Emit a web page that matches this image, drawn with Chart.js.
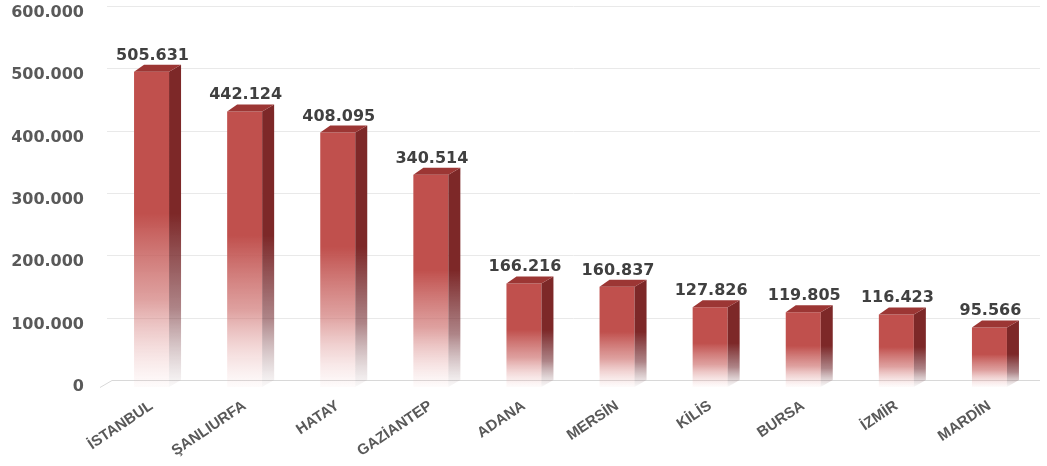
<!DOCTYPE html>
<html>
<head>
<meta charset="utf-8">
<script src="https://cdn.jsdelivr.net/npm/chart.js@4.4.1/dist/chart.umd.min.js"></script>
<style>
  html, body { margin: 0; padding: 0; background: #ffffff; }
  #wrap { width: 1047px; height: 466px; }
</style>
</head>
<body>
<div id="wrap"><canvas id="c" width="1047" height="466"></canvas></div>
<script>
const categories = ["İSTANBUL", "ŞANLIURFA", "HATAY", "GAZİANTEP", "ADANA", "MERSİN", "KİLİS", "BURSA", "İZMİR", "MARDİN"];
const values = [505631, 442124, 408095, 340514, 166216, 160837, 127826, 119805, 116423, 95566];
const yTicks = [0, 100000, 200000, 300000, 400000, 500000, 600000];

const DX = 12, DY = 7;

function fmt(v) {
  return String(v).replace(/\B(?=(\d{3})+(?!\d))/g, ".");
}

function frontGradient(ctx, top, base) {
  const g = ctx.createLinearGradient(0, top, 0, base);
  g.addColorStop(0, "rgba(192,80,77,1)");
  g.addColorStop(0.45, "rgba(192,80,77,1)");
  g.addColorStop(0.72, "rgba(205,110,108,0.65)");
  g.addColorStop(1, "rgba(235,180,180,0.05)");
  return g;
}

const backWall = {
  id: "backWall",
  beforeDatasetsDraw(chart) {
    const { ctx, chartArea, scales } = chart;
    ctx.save();
    ctx.lineWidth = 1;
    yTicks.forEach(v => {
      const y = Math.round(scales.y.getPixelForValue(v) - DY) + 0.5;
      ctx.strokeStyle = v === 0 ? "#d8d8d8" : "#e9e9e9";
      ctx.beginPath();
      if (v === 0) {
        ctx.moveTo(chartArea.left - 5, y + DY);
        ctx.lineTo(chartArea.left - 5 + DX, y);
      } else {
        ctx.moveTo(chartArea.left + 2, y);
      }
      ctx.lineTo(chartArea.right + 4, y);
      ctx.stroke();
    });
    ctx.restore();
  }
};

const bar3d = {
  id: "bar3d",
  afterDatasetsDraw(chart) {
    const { ctx } = chart;
    const meta = chart.getDatasetMeta(0);
    ctx.save();
    meta.data.forEach((bar, i) => {
      const half = bar.width / 2;
      const l = bar.x - half, r = bar.x + half, t = bar.y, b = bar.base;
      const sg = ctx.createLinearGradient(0, t, 0, b);
      sg.addColorStop(0, "rgba(125,40,40,1)");
      sg.addColorStop(0.45, "rgba(125,40,40,1)");
      sg.addColorStop(0.75, "rgba(120,50,55,0.6)");
      sg.addColorStop(1, "rgba(150,120,125,0.05)");
      ctx.fillStyle = sg;
      ctx.beginPath();
      ctx.moveTo(r, t);
      ctx.lineTo(r + DX, t - DY);
      ctx.lineTo(r + DX, b - DY);
      ctx.lineTo(r, b);
      ctx.closePath();
      ctx.fill();
      ctx.fillStyle = "#9c3634";
      ctx.beginPath();
      ctx.moveTo(l, t);
      ctx.lineTo(r, t);
      ctx.lineTo(r + DX, t - DY);
      ctx.lineTo(l + DX - 2, t - DY);
      ctx.closePath();
      ctx.fill();
      ctx.fillStyle = "#404040";
      ctx.font = "bold 16px 'DejaVu Sans'";
      ctx.textAlign = "center";
      ctx.textBaseline = "alphabetic";
      ctx.fillText(fmt(values[i]), bar.x + 1, t - 12);
    });
    ctx.restore();
  }
};

new Chart(document.getElementById("c"), {
  type: "bar",
  data: {
    labels: categories,
    datasets: [{
      data: values,
      backgroundColor: (c) => {
        const chart = c.chart;
        if (!chart.chartArea || c.dataIndex === undefined) return "rgba(192,80,77,1)";
        const top = chart.scales.y.getPixelForValue(values[c.dataIndex]);
        const base = chart.scales.y.getPixelForValue(0);
        return frontGradient(chart.ctx, top, base);
      },
      borderWidth: 0,
      barPercentage: 0.376,
      categoryPercentage: 1.0
    }]
  },
  options: {
    responsive: false,
    animation: false,
    devicePixelRatio: 1,
    layout: { padding: { top: 13, right: 11, left: 0, bottom: 0 } },
    plugins: {
      legend: { display: false },
      tooltip: { enabled: false }
    },
    scales: {
      x: {
        grid: { display: false, drawTicks: false },
        border: { display: false },
        ticks: {
          color: "#595959",
          font: { family: "'Liberation Sans'", weight: "bold", size: 15 },
          minRotation: 34,
          maxRotation: 34,
          autoSkip: false,
          padding: 10
        },
        afterFit(axis) { axis.height = 79; axis.paddingLeft = 0; axis.paddingRight = 0; }
      },
      y: {
        min: 0,
        max: 600000,
        grid: { display: false, drawTicks: false },
        border: { display: false },
        afterBuildTicks(axis) { axis.ticks = yTicks.map(v => ({ value: v })); },
        ticks: {
          color: "#595959",
          font: { family: "'DejaVu Sans'", weight: "bold", size: 16 },
          padding: 21,
          callback: (v) => fmt(v)
        },
        afterFit(axis) { axis.width = 105; axis.paddingTop = 0; axis.paddingBottom = 0; }
      }
    }
  },
  plugins: [backWall, bar3d]
});
</script>
</body>
</html>
